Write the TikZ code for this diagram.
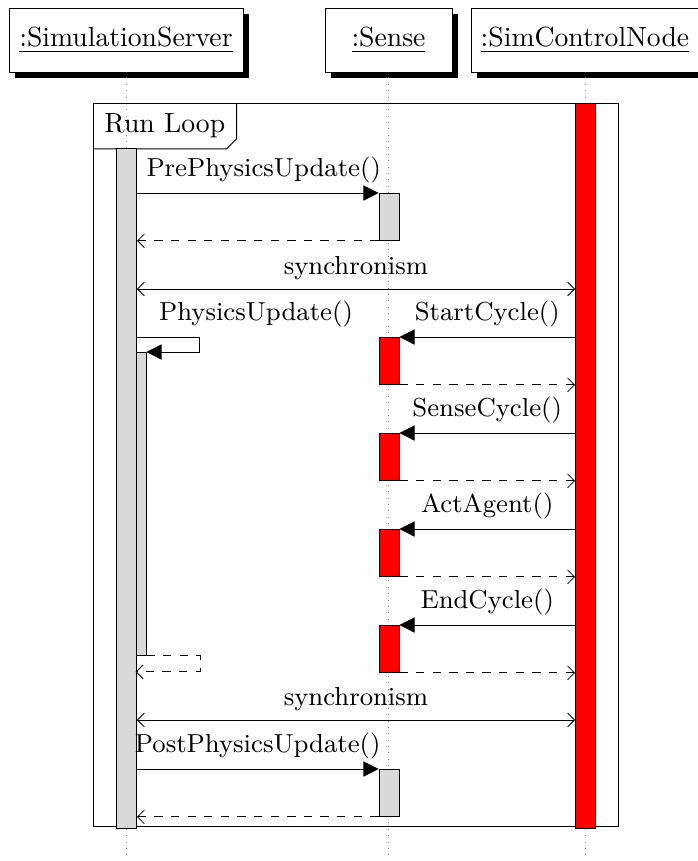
\documentclass[tikz,border=0pt]{standalone}
\usepackage{tikz}
\usetikzlibrary{arrows.meta, positioning, shadows}

\definecolor{actgray}{RGB}{217,217,217}
\newcommand{\px}{0.0127cm}

\begin{document}
\begin{tikzpicture}[
        x=\px, y=-\px, line width=0.3pt,
        thread/.style={draw, fill=white, minimum height=64*\px, inner sep=0pt,
            drop shadow={opacity=1, fill=black, shadow xshift=2pt, shadow yshift=-2pt}},
        lifeline/.style={dotted, gray},
        bar/.style={draw, minimum width=20*\px, inner sep=0pt, anchor=north},
        call/.style={-{Triangle[length=5.5pt, width=5.5pt]}},
        ret/.style={dashed, -{Straight Barb[length=2.5pt, width=5pt]}},
        sync/.style={{Straight Barb[length=2.5pt, width=5pt]}-{Straight Barb[length=2.5pt, width=5pt]}},
        msg/.style={above, font=\fontsize{9.4}{11}\selectfont}
    ]
    \useasboundingbox (0,0) rectangle (698,861);

    % objects
    \node[thread, minimum width=234*\px] (server) at (126,40) {\underline{:SimulationServer}};
    \node[thread, minimum width=127*\px] (sense) at (388.5,40) {\underline{:Sense}};
    \node[thread, minimum width=228*\px] (ctrl) at (585,40) {\underline{:SimControlNode}};

    \coordinate (bottom) at (0,861);
    \draw[lifeline] ([yshift=-5*\px]server.south) -- (server |- bottom);
    \draw[lifeline] ([yshift=-5*\px]sense.south) -- (sense |- bottom);
    \draw[lifeline] ([yshift=-5*\px]ctrl.south) -- (ctrl |- bottom);

    % Run Loop frame
    \draw (93,103) rectangle (618,826);
    \node[anchor=north west, minimum height=45*\px, inner xsep=11*\px, inner ysep=0pt] (loop) at (93,103) {Run Loop};
    \draw (loop.south west) -- ([xshift=-10*\px]loop.south east)
          -- ([yshift=10*\px]loop.south east) -- (loop.north east);

    % activations
    \node[bar, fill=actgray, minimum height=680*\px] (srvbar) at (126.5,148) {};
    \node[bar, fill=red, minimum height=725*\px] (ctrlbar) at (585.5,103) {};
    \node[bar, fill=actgray, minimum width=10*\px, minimum height=303*\px] (nest) at (141,352) {};
    \node[bar, fill=actgray, minimum height=47*\px] (pre) at (389,193) {};
    \node[bar, fill=red, minimum height=47*\px] (start) at (389,337) {};
    \node[bar, fill=red, minimum height=47*\px] (cycle) at (389,433) {};
    \node[bar, fill=red, minimum height=47*\px] (act) at (389,529) {};
    \node[bar, fill=red, minimum height=47*\px] (end) at (389,625) {};
    \node[bar, fill=actgray, minimum height=47*\px] (post) at (389,769) {};

    % PrePhysicsUpdate
    \draw[call] (srvbar.east |- pre.north) -- (pre.north west) node[midway, msg, xshift=6*\px] {PrePhysicsUpdate()};
    \draw[ret] (pre.south west) -- (srvbar.east |- pre.south);

    \coordinate (sync1) at (0,289);
    \draw[sync] (srvbar.east |- sync1) -- (ctrlbar.west |- sync1) node[midway, msg] {synchronism};

    % PhysicsUpdate (self call)
    \draw[call] ([yshift=15*\px]nest.north west) -- ++(64,0) |- (nest.north east);
    \node[msg] (physlbl) at (256,337) {PhysicsUpdate()};
    \draw[ret] (nest.south east) -- ++(54,0) |- ([yshift=-16*\px]nest.south west);

    % cycle messages
    \draw[call] (ctrlbar.west |- start.north) -- (start.north east) node[midway, msg] {StartCycle()};
    \draw[ret] (start.south east) -- (ctrlbar.west |- start.south);
    \draw[call] (ctrlbar.west |- cycle.north) -- (cycle.north east) node[midway, msg] {SenseCycle()};
    \draw[ret] (cycle.south east) -- (ctrlbar.west |- cycle.south);
    \draw[call] (ctrlbar.west |- act.north) -- (act.north east) node[midway, msg] {ActAgent()};
    \draw[ret] (act.south east) -- (ctrlbar.west |- act.south);
    \draw[call] (ctrlbar.west |- end.north) -- (end.north east) node[midway, msg] {EndCycle()};
    \draw[ret] (end.south east) -- (ctrlbar.west |- end.south);

    \coordinate (sync2) at (0,720);
    \draw[sync] (srvbar.east |- sync2) -- (ctrlbar.west |- sync2) node[midway, msg] {synchronism};

    % PostPhysicsUpdate
    \draw[call] (srvbar.east |- post.north) -- (post.north west) node[midway, msg] {PostPhysicsUpdate()};
    \draw[ret] (post.south west) -- (srvbar.east |- post.south);

\end{tikzpicture}
\end{document}
